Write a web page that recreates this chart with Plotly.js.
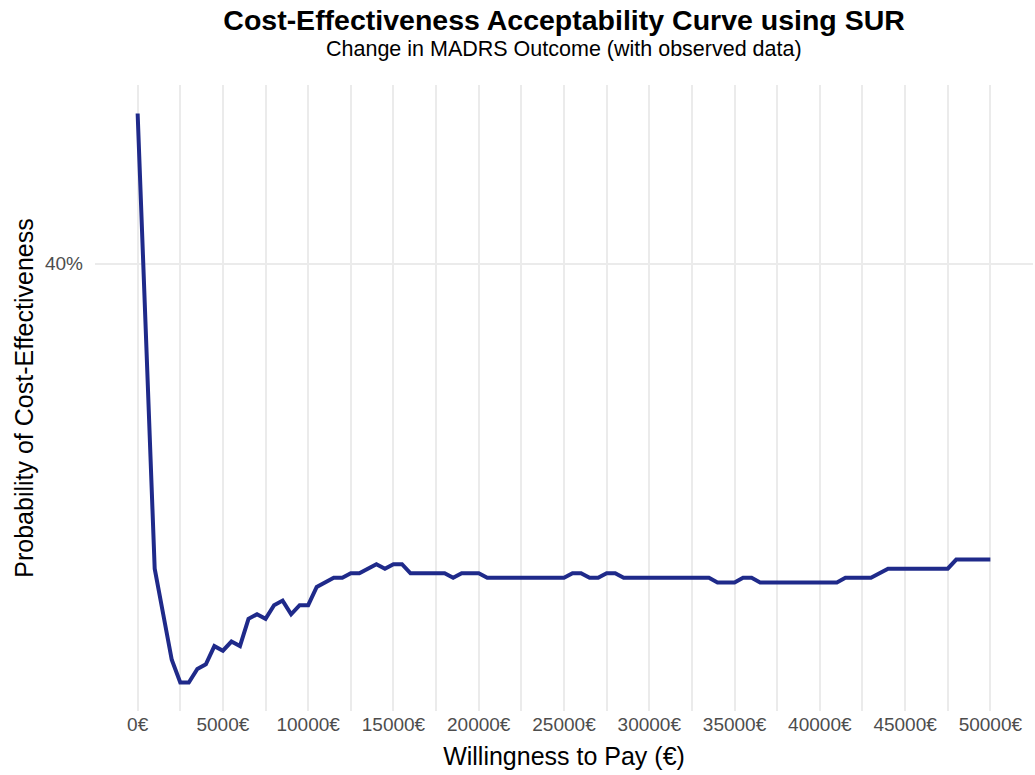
<!DOCTYPE html>
<html>
<head>
<meta charset="utf-8">
<script src="https://cdn.plot.ly/plotly-3.0.1.min.js"></script>
<style>html,body{margin:0;padding:0;background:#fff;}#chart{width:1035px;height:775px;}</style>
</head>
<body>
<div id="chart"></div>
<script>
const wtp = [0,500,1000,1500,2000,2500,3000,3500,4000,4500,5000,5500,6000,6500,7000,7500,8000,8500,9000,9500,
  10000,10500,11000,11500,12000,12500,13000,13500,14000,14500,15000,15500,16000,16500,17000,17500,18000,18500,19000,19500,
  20000,20500,21000,21500,22000,22500,23000,23500,24000,24500,25000,25500,26000,26500,27000,27500,28000,28500,29000,29500,
  30000,30500,31000,31500,32000,32500,33000,33500,34000,34500,35000,35500,36000,36500,37000,37500,38000,38500,39000,39500,
  40000,40500,41000,41500,42000,42500,43000,43500,44000,44500,45000,45500,46000,46500,47000,47500,48000,48500,49000,49500,50000];
const probCE = [0.433,0.383,0.333,0.323,0.313,0.308,0.308,0.311,0.312,0.316,0.315,0.317,0.316,0.322,0.323,0.322,0.325,0.326,0.323,0.325,
  0.325,0.329,0.330,0.331,0.331,0.332,0.332,0.333,0.334,0.333,0.334,0.334,0.332,0.332,0.332,0.332,0.332,0.331,0.332,0.332,
  0.332,0.331,0.331,0.331,0.331,0.331,0.331,0.331,0.331,0.331,0.331,0.332,0.332,0.331,0.331,0.332,0.332,0.331,0.331,0.331,
  0.331,0.331,0.331,0.331,0.331,0.331,0.331,0.331,0.330,0.330,0.330,0.331,0.331,0.330,0.330,0.330,0.330,0.330,0.330,0.330,
  0.330,0.330,0.330,0.331,0.331,0.331,0.331,0.332,0.333,0.333,0.333,0.333,0.333,0.333,0.333,0.333,0.335,0.335,0.335,0.335,0.335];
const xTickVals = [0,5000,10000,15000,20000,25000,30000,35000,40000,45000,50000];
const xTickText = ['0€','5000€','10000€','15000€','20000€','25000€','30000€','35000€','40000€','45000€','50000€'];
const yTickVals = [0.4];
const yTickText = ['40%'];

const font = 'Liberation Sans, Arial, Helvetica, sans-serif';
const grid = '#EBEBEB';

Plotly.newPlot('chart', [{
  x: wtp, y: probCE, type: 'scatter', mode: 'lines',
  line: {color: '#1f2a8a', width: 4},
  hovertemplate: 'WTP: %{x}€<br>P(CE): %{y:.1%}<extra></extra>'
}], {
  width: 1035, height: 775,
  paper_bgcolor: '#fff', plot_bgcolor: '#fff',
  margin: {l: 95, r: 2, t: 85, b: 64},
  showlegend: false,
  font: {family: font, color: '#000'},
  title: {
    text: '<b>Cost-Effectiveness Acceptability Curve using SUR</b>',
    font: {size: 28.5, family: font, color: '#000'},
    x: 0.545, xanchor: 'center', xref: 'container',
    y: 0.9745, yanchor: 'middle', yref: 'container'
  },
  annotations: [{
    text: 'Change in MADRS Outcome (with observed data)',
    xref: 'paper', yref: 'paper', x: 0.5, y: 1.0575,
    xanchor: 'center', yanchor: 'middle', showarrow: false,
    font: {size: 21.5, family: font, color: '#000'}
  }],
  xaxis: {
    range: [-2500, 52500],
    tickmode: 'array', tickvals: xTickVals, ticktext: xTickText,
    tickfont: {size: 19, color: '#4D4D4D', family: font},
    showgrid: true, gridcolor: grid, gridwidth: 1.5,
    minor: {dtick: 2500, tick0: 0, showgrid: true, gridcolor: grid, gridwidth: 1.5},
    zeroline: false, showline: false, ticks: '', ticklen: 0,
    title: {text: 'Willingness to Pay (€)', font: {size: 25, color: '#000', family: font}, standoff: 13},
    fixedrange: true
  },
  yaxis: {
    range: [0.30175, 0.43925],
    tickmode: 'array', tickvals: yTickVals, ticktext: yTickText,
    tickfont: {size: 19, color: '#4D4D4D', family: font},
    ticklabelstandoff: 11,
    showgrid: true, gridcolor: grid, gridwidth: 1.5,
    zeroline: false, showline: false, ticks: '', ticklen: 0,
    title: {text: 'Probability of Cost-Effectiveness', font: {size: 25, color: '#000', family: font}, standoff: 4},
    fixedrange: true
  }
}, {displayModeBar: false});
</script>
</body>
</html>
